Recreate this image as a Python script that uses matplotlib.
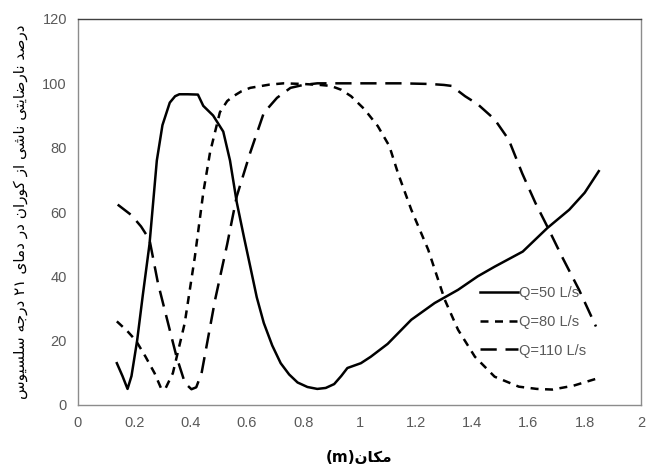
import matplotlib
matplotlib.use("Agg")
import matplotlib.pyplot as plt

# --- data ---
x_q50 = [0.138, 0.158, 0.176, 0.19, 0.21, 0.23, 0.254, 0.28, 0.30, 0.326, 0.345, 0.36, 0.39,
         0.426, 0.445, 0.48, 0.516, 0.54, 0.564, 0.59, 0.612, 0.635, 0.66, 0.69, 0.72, 0.75,
         0.78, 0.815, 0.85, 0.88, 0.91, 0.935, 0.957, 1.005, 1.04, 1.10, 1.184, 1.267, 1.35,
         1.42, 1.48, 1.58, 1.667, 1.745, 1.80, 1.85]
y_q50 = [13, 9, 5, 9, 20, 34, 50, 76, 87, 94, 96, 96.6, 96.6,
         96.5, 93, 90, 85, 76, 63, 52, 43, 33.5, 25.5, 18.5, 13, 9.5,
         7, 5.6, 5, 5.3, 6.5, 9, 11.5, 13, 15, 19, 26.5, 31.7, 35.8,
         40, 43, 47.7, 55, 60.7, 66, 72.7]

x_q80 = [0.138, 0.175, 0.206, 0.24, 0.272, 0.296, 0.31, 0.337, 0.379, 0.415, 0.445, 0.469, 0.504,
         0.53, 0.552, 0.58, 0.612, 0.68, 0.73, 0.80, 0.86, 0.898, 0.935, 0.97, 1.017, 1.065,
         1.106, 1.137, 1.184, 1.244, 1.303, 1.35, 1.41, 1.48, 1.566, 1.63, 1.685, 1.76, 1.85]
y_q80 = [26, 23, 20, 15, 9.9, 5, 5, 9.9, 25.4, 46, 66, 78.5, 91,
         94.5, 96, 97.5, 98.6, 99.6, 100, 99.8, 99.5, 99.2, 98, 96, 92, 86.7,
         80.5, 72, 60.7, 48.3, 32.7, 23.4, 15, 8.8, 5.7, 5, 4.8, 6, 8.4]

x_q110 = [0.141, 0.19, 0.224, 0.254, 0.284, 0.32, 0.35, 0.38, 0.403, 0.42, 0.439, 0.487, 0.53,
          0.564, 0.612, 0.66, 0.707, 0.755, 0.80, 0.85, 0.95, 1.05, 1.15, 1.25, 1.30, 1.327,
          1.375, 1.42, 1.48, 1.53, 1.578, 1.625, 1.667, 1.72, 1.78, 1.84]
y_q110 = [62.3, 59, 55.5, 51.4, 37.9, 25.4, 15, 6.8, 4.9, 5.5, 9.9, 32.7, 50,
          64.9, 78.5, 90.8, 95.5, 98.6, 99.5, 100, 100, 100, 100, 99.8, 99.5, 99.2,
          96, 93.5, 88.8, 82.5, 72, 62.8, 55.5, 46, 35.8, 24.4]

x_ticks = [0, 0.2, 0.4, 0.6, 0.8, 1, 1.2, 1.4, 1.6, 1.8, 2]
x_tick_labels = ["0", "0.2", "0.4", "0.6", "0.8", "1", "1.2", "1.4", "1.6", "1.8", "2"]
y_ticks = [0, 20, 40, 60, 80, 100, 120]
series_labels = ["Q=50 L/s", "Q=80 L/s", "Q=110 L/s"]
x_label_fa = "مکان"
y_label_fa = "درصد نارضایتی ناشی از کوران در دمای ۲۱ درجه سلسیوس"


# minimal Persian shaping (presentation forms) since matplotlib has no text shaping
FORMS = {
    # char: (isolated, final, initial, medial); None for initial/medial => right-joining only
    "ا": ("\uFE8D", "\uFE8E", None, None),
    "د": ("\uFEA9", "\uFEAA", None, None),
    "ر": ("\uFEAD", "\uFEAE", None, None),
    "ز": ("\uFEAF", "\uFEB0", None, None),
    "و": ("\uFEED", "\uFEEE", None, None),
    "ص": ("\uFEB9", "\uFEBA", "\uFEBB", "\uFEBC"),
    "ض": ("\uFEBD", "\uFEBE", "\uFEBF", "\uFEC0"),
    "ن": ("\uFEE5", "\uFEE6", "\uFEE7", "\uFEE8"),
    "ت": ("\uFE95", "\uFE96", "\uFE97", "\uFE98"),
    "ش": ("\uFEB5", "\uFEB6", "\uFEB7", "\uFEB8"),
    "س": ("\uFEB1", "\uFEB2", "\uFEB3", "\uFEB4"),
    "ج": ("\uFE9D", "\uFE9E", "\uFE9F", "\uFEA0"),
    "ه": ("\uFEE9", "\uFEEA", "\uFEEB", "\uFEEC"),
    "ل": ("\uFEDD", "\uFEDE", "\uFEDF", "\uFEE0"),
    "م": ("\uFEE1", "\uFEE2", "\uFEE3", "\uFEE4"),
    "ک": ("\uFB8E", "\uFB8F", "\uFB90", "\uFB91"),
    "ی": ("\uFBFC", "\uFBFD", "\uFBFE", "\uFBFF"),
}


def shape_word(word):
    out = []
    for i, ch in enumerate(word):
        if ch not in FORMS:
            out.append(ch)
            continue
        prev = word[i - 1] if i > 0 else None
        nxt = word[i + 1] if i + 1 < len(word) else None
        joins_prev = prev in FORMS and FORMS[prev][2] is not None
        joins_next = FORMS[ch][2] is not None and nxt in FORMS
        iso, fin, ini, med = FORMS[ch]
        if joins_prev and joins_next:
            out.append(med)
        elif joins_prev:
            out.append(fin)
        elif joins_next:
            out.append(ini)
        else:
            out.append(iso)
    return "".join(out)


def visual_rtl(text):
    # shape each word, reverse letters of Arabic words, reverse word order
    words = []
    for w in text.split(" "):
        if any(c in FORMS for c in w):
            words.append(shape_word(w)[::-1])
        else:
            words.append(w)
    return " ".join(words[::-1])


fa_font = ["DejaVu Sans"]
num_font = ["Liberation Sans Narrow", "Liberation Sans", "DejaVu Sans"]

fig = plt.figure(figsize=(6.53, 4.70), dpi=100)
ax = fig.add_axes([78 / 653, 1 - 405 / 470, (641 - 78) / 653, (405 - 19) / 470])

ax.plot(x_q50, y_q50, color="black", lw=1.8, linestyle="-", label=series_labels[0])
ax.plot(x_q80, y_q80, color="black", lw=1.8, linestyle=(0, (3.2, 2.6)), label=series_labels[1])
ax.plot(x_q110, y_q110, color="black", lw=1.8, linestyle=(0, (6.5, 3.5)), label=series_labels[2])

ax.set_xlim(0, 2)
ax.set_ylim(0, 120)
ax.set_xticks(x_ticks)
ax.set_xticklabels(x_tick_labels)
ax.set_yticks(y_ticks)
ax.tick_params(length=0, pad=8, labelsize=10.5, labelcolor="#595959")
for lab in ax.get_xticklabels() + ax.get_yticklabels():
    lab.set_family(num_font)

for side in ["top", "right", "bottom", "left"]:
    ax.spines[side].set_color("#8c8c8c")
    ax.spines[side].set_linewidth(1.0)
ax.spines["top"].set_color("#404040")

ax.set_xlabel("(m)" + visual_rtl(x_label_fa), fontsize=11, fontweight="bold",
              family=fa_font, labelpad=14)
ax.set_ylabel(visual_rtl(y_label_fa), fontsize=11, family=fa_font, labelpad=10)

leg = ax.legend(loc="lower left", bbox_to_anchor=(0.69, 0.089), frameon=False,
                handlelength=2.6, handletextpad=0.1, labelspacing=1.0,
                prop={"family": num_font, "size": 10.5})
for t in leg.get_texts():
    t.set_color("#595959")

fig.savefig("out.png", dpi=100)
